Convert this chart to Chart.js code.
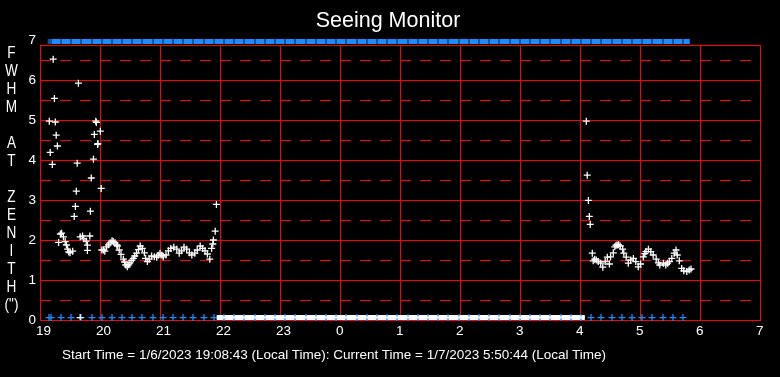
<!DOCTYPE html>
<html>
<head>
<meta charset="utf-8">
<title>Seeing Monitor</title>
<script src="https://cdn.jsdelivr.net/npm/chart.js@4.4.0/dist/chart.umd.min.js"></script>
<style>
  html, body { margin: 0; padding: 0; background: #000; }
  #wrap { position: relative; width: 780px; height: 377px; overflow: hidden; }
  #yLetters {
    position: absolute; left: 0; top: 44px; width: 23px;
    text-align: center; color: #fff; line-height: 18px;
    font: 16px "Liberation Sans", Arial, sans-serif;
    transform: scaleX(0.85); transform-origin: 11.5px 0;
  }
  #footer {
    position: absolute; left: 62px; top: 347px; color: #fff; white-space: nowrap;
    font: 13.5px "Liberation Sans", Arial, sans-serif;
  }
</style>
</head>
<body>
<div id="wrap">
  <canvas id="seeingChart" width="780" height="377"></canvas>
  <div id="yLetters">F<br>W<br>H<br>M<br>&nbsp;<br>A<br>T<br>&nbsp;<br>Z<br>E<br>N<br>I<br>T<br>H<br>(")</div>
  <div id="footer">Start Time = 1/6/2023 19:08:43 (Local Time): Current Time = 1/7/2023 5:50:44 (Local Time)</div>
</div>
<script>
// x is local time in hours, past midnight continues as 24, 25 ...
const xTickLabels = ['19', '20', '21', '22', '23', '0', '1', '2', '3', '4', '5', '6', '7'];
const yTickLabels = ['0', '1', '2', '3', '4', '5', '6', '7'];
const yHalfTicks = [0.5, 1.5, 2.5, 3.5, 4.5, 5.5, 6.5];

// FWHM readings (white crosses)
const seeTimes = [
  19.155, 19.17, 19.205, 19.22, 19.24, 19.255, 19.27, 19.29, 19.31, 19.34,
  19.36, 19.39, 19.42, 19.44, 19.46, 19.48, 19.50, 19.545, 19.57, 19.59,
  19.605, 19.62, 19.64, 19.67, 19.67, 19.71, 19.73, 19.77, 19.79, 19.79,
  19.83, 19.84, 19.855, 19.89, 19.905, 19.93, 19.94, 19.96, 19.965, 20.005,
  20.02, 20.03, 20.055, 20.08, 20.11, 20.14, 20.17, 20.20, 20.22, 20.25,
  20.28, 20.29, 20.32, 20.35, 20.39, 20.41, 20.43, 20.455, 20.48, 20.50,
  20.53, 20.555, 20.58, 20.61, 20.64, 20.67, 20.705, 20.74, 20.76, 20.79,
  20.82, 20.86, 20.905, 20.945, 20.97, 21.00, 21.03, 21.055, 21.10, 21.14,
  21.18, 21.23, 21.28, 21.32, 21.36, 21.40, 21.445, 21.49, 21.53, 21.58,
  21.62, 21.67, 21.71, 21.75, 21.79, 21.83, 21.86, 21.88, 21.89, 21.92,
  21.94,
  28.105, 28.12, 28.14, 28.155, 28.17, 28.205, 28.22, 28.245, 28.27, 28.305,
  28.345, 28.38, 28.42, 28.455, 28.49, 28.51, 28.555, 28.58, 28.60, 28.62,
  28.645, 28.67, 28.71, 28.73, 28.77, 28.805, 28.845, 28.89, 28.93, 28.97,
  29.01, 29.055, 29.08, 29.10, 29.14, 29.18, 29.22, 29.27, 29.305, 29.33,
  29.39, 29.43, 29.46, 29.49, 29.53, 29.57, 29.60, 29.62, 29.655, 29.695,
  29.73, 29.78, 29.82, 29.85
];
const seeValues = [
  4.97, 4.19, 3.89, 6.52, 5.54, 4.95, 4.62, 4.35, 1.94, 2.15,
  2.17, 2.08, 1.96, 1.875, 1.77, 1.70, 1.68, 1.72, 2.59, 2.84,
  3.22, 3.92, 5.92, 2.08, 0.06, 2.10, 2.03, 1.97, 1.87, 1.74,
  2.10, 2.72, 3.55, 4.02, 4.64, 4.97, 4.94, 4.39, 4.41, 4.72,
  3.29, 1.75, 1.75, 1.72, 1.83, 1.88, 1.93, 1.98, 1.96, 1.93,
  1.875, 1.85, 1.75, 1.64, 1.52, 1.45, 1.375, 1.33, 1.38, 1.43,
  1.49, 1.54, 1.60, 1.67, 1.76, 1.85, 1.79, 1.68, 1.54, 1.46,
  1.52, 1.60, 1.58, 1.57, 1.62, 1.67, 1.62, 1.58, 1.625, 1.73,
  1.79, 1.82, 1.77, 1.67, 1.73, 1.82, 1.77, 1.68, 1.625, 1.67,
  1.75, 1.85, 1.79, 1.73, 1.65, 1.52, 1.79, 1.90, 2.00, 2.22,
  2.89,
  4.97, 3.62, 2.99, 2.59, 2.39, 1.67, 1.48, 1.52, 1.50, 1.46,
  1.42, 1.32, 1.46, 1.57, 1.40, 1.58, 1.68, 1.83, 1.87, 1.875,
  1.88, 1.85, 1.77, 1.67, 1.57, 1.42, 1.50, 1.54, 1.46, 1.33,
  1.40, 1.58, 1.66, 1.71, 1.77, 1.71, 1.625, 1.52, 1.43, 1.375,
  1.42, 1.375, 1.42, 1.46, 1.54, 1.67, 1.75, 1.625, 1.48, 1.29,
  1.23, 1.21, 1.25, 1.275
];

// blue status crosses along the bottom, minutes after 19:00
const statusMinutes = [
  9, 11, 21, 31, 41, 52, 62, 72, 82, 92, 102, 113, 123, 133, 143, 153,
  164, 174, 184, 194, 204, 215, 225, 235, 245, 255, 266, 276, 286, 296,
  306, 317, 327, 337, 347, 357, 368, 378, 388, 398, 408, 419, 429, 439,
  449, 459, 470, 480, 490, 500, 510, 521, 531, 541, 551, 561, 572, 582,
  592, 602, 612, 623, 633, 643
];
const statusLevel = 0.06;

// white band at the bottom (no reading) and blue band along the top
const closedBand = [21.945, 28.08];
const closedLevel = 0.06;
const runBand = [19.13, 29.83];
const runLevel = 6.96;

const RED = '#ff0000';
const BLUE = '#1a8cff';

Chart.defaults.font.family = '"Liberation Sans", Arial, sans-serif';
Chart.defaults.color = '#ffffff';

function toPoints(xs, ys) {
    return xs.map((x, i) => ({ x: x, y: ys[i] }));
}

function band(xs, level, color, width) {
    return {
        data: xs.map(x => ({ x: x, y: level })),
        showLine: true,
        borderColor: color,
        borderWidth: width,
        borderCapStyle: 'butt',
        pointRadius: 0,
        clip: false
    };
}

const statusPoints = (level) => statusMinutes.map(m => ({ x: 19 + m / 60, y: level }));

// dashed half-unit lines, drawn through the yHalf scale
const halfGrid = {
    id: 'halfGrid',
    beforeDatasetsDraw(chart) {
        const s = chart.scales.yHalf;
        const { left, right } = chart.chartArea;
        const c = chart.ctx;
        c.save();
        c.strokeStyle = RED;
        c.lineWidth = 1;
        c.setLineDash([11, 9]);
        yHalfTicks.forEach(v => {
            const y = Math.round(s.getPixelForValue(v)) + 0.5;
            c.beginPath();
            c.moveTo(left, y);
            c.lineTo(right, y);
            c.stroke();
        });
        c.restore();
    }
};

const ctx = document.getElementById('seeingChart').getContext('2d');
window.seeingChart = new Chart(ctx, {
    type: 'scatter',
    plugins: [halfGrid],
    data: {
        datasets: [
            // dark ticks splitting the top band at each status time
            {
                data: statusPoints(runLevel),
                pointStyle: 'line',
                rotation: 90,
                pointRadius: 2.5,
                borderColor: '#001a33',
                borderWidth: 1,
                clip: false
            },
            // thin white core over the blue crosses inside the band
            band(closedBand, closedLevel, '#ffffff', 2),
            {
                data: toPoints(seeTimes, seeValues),
                pointStyle: 'cross',
                pointRadius: 3.5,
                borderColor: '#ffffff',
                borderWidth: 1.3
            },
            {
                data: statusPoints(statusLevel),
                pointStyle: 'cross',
                pointRadius: 3.5,
                borderColor: BLUE,
                borderWidth: 1.3,
                clip: false
            },
            band(closedBand, closedLevel, '#ffffff', 5),
            band(runBand, runLevel, BLUE, 5)
        ]
    },
    options: {
        responsive: false,
        animation: false,
        devicePixelRatio: 1,
        events: [],
        layout: { padding: { left: 8, right: 12, top: 0, bottom: 0 } },
        plugins: {
            legend: { display: false },
            tooltip: { enabled: false },
            title: {
                display: true,
                text: 'Seeing Monitor',
                color: '#ffffff',
                font: { size: 21.5, weight: 'normal' },
                padding: { top: 8, bottom: 11.2 }
            }
        },
        scales: {
            x: {
                type: 'linear',
                min: 19,
                max: 31,
                afterBuildTicks: (s) => { s.ticks = xTickLabels.map((_, i) => ({ value: 19 + i })); },
                afterFit: (s) => { s.height = 57; },
                ticks: {
                    color: '#ffffff',
                    font: { size: 13.5 },
                    padding: 3,
                    maxRotation: 0,
                    autoSkip: false,
                    align: 'start',
                    labelOffset: -4,
                    callback: (v) => xTickLabels[Math.round(v) - 19]
                },
                grid: { color: RED, lineWidth: 1, drawTicks: false },
                border: { color: RED, width: 1 }
            },
            xTop: {
                type: 'linear',
                position: 'top',
                min: 19,
                max: 31,
                afterFit: (s) => { s.height = 0; },
                ticks: { display: false },
                grid: { display: false, drawTicks: false },
                border: { color: RED, width: 1 }
            },
            y: {
                type: 'linear',
                position: 'left',
                min: 0,
                max: 6.875,
                afterBuildTicks: (s) => { s.ticks = yTickLabels.map((_, i) => ({ value: i })); },
                afterFit: (s) => { s.width = 32; },
                ticks: {
                    color: '#ffffff',
                    font: { size: 13.5 },
                    padding: 4,
                    autoSkip: false,
                    callback: (v) => yTickLabels[Math.round(v)]
                },
                grid: {
                    color: (c) => (c.tick && c.tick.value > 6.9 ? 'rgba(0,0,0,0)' : RED),
                    lineWidth: 1,
                    drawTicks: false
                },
                border: { color: RED, width: 1 }
            },
            yHalf: {
                type: 'linear',
                position: 'left',
                display: false,
                min: 0,
                max: 6.875
            },
            // empty right gutter so the plot ends at 7
            yRight: {
                type: 'linear',
                position: 'right',
                min: 0,
                max: 6.875,
                afterFit: (s) => { s.width = 8; },
                ticks: { display: false },
                grid: { display: false, drawTicks: false },
                border: { display: false }
            }
        }
    }
});
</script>
</body>
</html>
